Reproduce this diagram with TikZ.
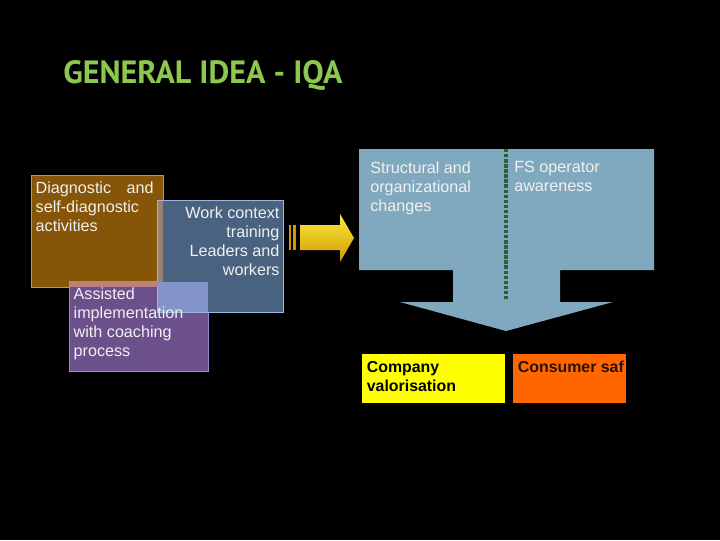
\documentclass[tikz,border=0pt]{standalone}
\usepackage{fontspec}
\setmainfont{Liberation Sans}
\newfontfamily\titlefont{PT Sans}
\usepackage{tikz}
\usetikzlibrary{calc,positioning}

\definecolor{titlegreen}{RGB}{140,200,80}
\definecolor{diagfill}{RGB}{135,85,8}
\definecolor{diagline}{RGB}{200,145,85}
\definecolor{workfill}{RGB}{72,98,128}
\definecolor{workline}{RGB}{160,180,220}
\definecolor{coachfill}{RGB}{108,80,140}
\definecolor{coachline}{RGB}{150,140,205}
\definecolor{diagwork}{RGB}{150,130,115}
\definecolor{diagcoach}{RGB}{185,130,125}
\definecolor{workcoach}{RGB}{130,148,200}
\definecolor{flowfill}{RGB}{128,168,190}
\definecolor{dividergreen}{RGB}{35,100,55}
\definecolor{arrowtop}{RGB}{255,232,60}
\definecolor{arrowbottom}{RGB}{205,155,0}
\definecolor{valfill}{RGB}{255,255,0}
\definecolor{safefill}{RGB}{255,102,0}
\definecolor{safetextcol}{RGB}{45,15,0}
\definecolor{boxwhite}{RGB}{240,240,240}

\tikzset{
	panel/.style={draw, line width=0.8pt, anchor=north west, inner sep=0pt},
	boxtext/.style={text=boxwhite, inner xsep=0.11cm, inner ysep=0.15cm,
		font=\fontsize{11.5}{13.6}\selectfont},
	resulttext/.style={anchor=north west, inner xsep=0.14cm, inner ysep=0.2cm,
		align=left, font=\fontsize{11.3}{13.6}\selectfont\bfseries}
}

\begin{document}
\begin{tikzpicture}[x=0.025cm,y=-0.025cm]
		\fill[black] (0,0) rectangle (720,540);
		\node(title) [anchor=base west, inner sep=0pt, text=titlegreen] at (63,83)
			{\resizebox{6.975cm}{0.575cm}{\titlefont\bfseries GENERAL IDEA - IQA}};
		% left group of boxes
		\begin{scope}
			\node(diag) [panel, fill=diagfill, draw=diagline, minimum width=3.3cm, minimum height=2.8cm] at (31,175) {};
			\node(coach) [panel, fill=coachfill, draw=coachline, minimum width=3.475cm, minimum height=2.25cm] at (69,281) {};
			\node(work) [panel, fill=workfill, draw=workline, minimum width=3.15cm, minimum height=2.8cm] at (157,200) {};
			\fill[diagwork] (157.5,200.5) rectangle (162.5,286.5);
			\fill[diagcoach] (69.5,281.5) rectangle (162.5,286.5);
			\fill[workcoach] (157.5,281.5) rectangle (207.5,311.5);
			\node(diagtext) [boxtext, anchor=north west, align=left] at (diag.north west)
				{Diagnostic\hspace{11pt}and\\self-diagnostic\\activities};
			\node(worktext) [boxtext, anchor=north east, align=right] at (work.north east)
				{Work context\\training\\Leaders and\\workers};
			\node(coachtext) [boxtext, anchor=north west, align=left] at (coach.north west)
				{Assisted\\implementation\\with coaching\\process};
		\end{scope}
		% yellow arrow
		\shade[top color=arrowtop, bottom color=arrowbottom]
			(300,225) -- (340,225) -- (340,214) -- (354,238) -- (340,262) -- (340,250) -- (300,250) -- cycle;
		\fill[arrowbottom] (289,225) rectangle (291,250);
		\fill[arrowbottom] (293,225) rectangle (296,250);
		% big block arrow
		\fill[flowfill] (359,149) -- (654,149) -- (654,270) -- (560,270) -- (560,302) -- (613,302)
			-- (506,331) -- (400,302) -- (453,302) -- (453,270) -- (359,270) -- cycle;
		\coordinate (divtop) at (506,149);
		\coordinate (divbottom) at (506,300);
		\draw[dividergreen, line width=2.4pt, dash pattern=on 2.4pt off 1.2pt] (divtop) -- (divbottom);
		\node(struct) [boxtext, anchor=north west, align=left, inner sep=0pt] at (370,161)
			{Structural and\\organizational\\changes};
		\node(aware) [boxtext, anchor=north west, align=left, inner sep=0pt] at (514,161)
			{FS operator\\awareness};
		% results
		\node(valbox) [panel, draw=none, fill=valfill, minimum width=3.575cm, minimum height=1.225cm] at (361,353) {};
		\node(safebox) [panel, draw=none, fill=safefill, minimum width=2.825cm, minimum height=1.225cm] at (512,353) {};
		\node(valtext) [resulttext, text=black] at (valbox.north west) {Company\\valorisation};
		\node(safetext) [resulttext, text=safetextcol] at (safebox.north west) {Consumer saf};
\end{tikzpicture}
\end{document}
